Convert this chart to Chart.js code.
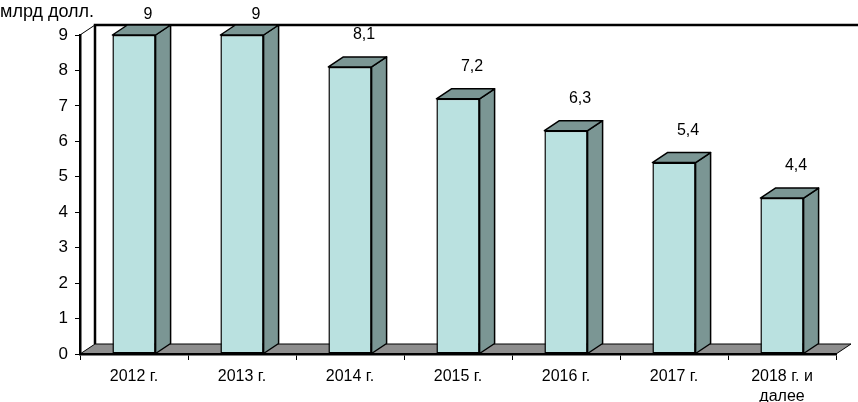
<!DOCTYPE html>
<html lang="ru">
<head>
<meta charset="utf-8">
<title>млрд долл.</title>
<script src="https://cdn.jsdelivr.net/npm/chart.js@4/dist/chart.umd.min.js"></script>
<style>
    html, body { margin: 0; padding: 0; background: #ffffff; }
    #wrap { width: 858px; height: 402px; position: relative; }
</style>
</head>
<body>
<div id="wrap"><canvas id="barChart" width="858" height="402"></canvas></div>
<script>
// --- DATA ---
const categories = ['2012 г.', '2013 г.', '2014 г.', '2015 г.', '2016 г.', '2017 г.', ['2018 г. и', 'далее']];
const values = [9, 9, 8.1, 7.2, 6.3, 5.4, 4.4];
const valueLabels = ['9', '9', '8,1', '7,2', '6,3', '5,4', '4,4'];
const yTitle = 'млрд долл.';

const FONT = '"Liberation Sans", Arial, sans-serif';
const DX = 15, DY = 10;   // fake 3D depth
const FRONT = '#bae1e0';
const SIDE = '#7b9694';
const FLOOR = '#8e8e8e';

// Walls and floor go under everything else
const backdropPlugin = {
    id: 'backdrop',
    beforeDraw(chart) {
        const { ctx, chartArea: a } = chart;
        ctx.save();
        ctx.fillStyle = '#ffffff';
        ctx.fillRect(0, 0, chart.width, chart.height);

        // floor
        ctx.beginPath();
        ctx.moveTo(a.left, a.bottom);
        ctx.lineTo(a.left + DX, a.bottom - DY);
        ctx.lineTo(a.right + DX, a.bottom - DY);
        ctx.lineTo(a.right, a.bottom);
        ctx.closePath();
        ctx.fillStyle = FLOOR;
        ctx.fill();
        ctx.lineWidth = 1;
        ctx.strokeStyle = '#000';
        ctx.stroke();

        // left wall top edge
        ctx.beginPath();
        ctx.moveTo(a.left, a.top);
        ctx.lineTo(a.left + DX, a.top - DY);
        ctx.stroke();

        // back wall: thick left edge and top edge
        ctx.lineWidth = 2.5;
        ctx.beginPath();
        ctx.moveTo(a.left + DX, a.bottom - DY);
        ctx.lineTo(a.left + DX, a.top - DY);
        ctx.lineTo(chart.width, a.top - DY);
        ctx.stroke();

        // axis title
        ctx.fillStyle = '#000';
        ctx.font = '18px ' + FONT;
        ctx.textBaseline = 'alphabetic';
        ctx.textAlign = 'left';
        ctx.fillText(yTitle, 0, 17);
        ctx.restore();
    },
    afterDatasetsDraw(chart) {
        const { ctx } = chart;
        const meta = chart.getDatasetMeta(0);
        ctx.save();
        ctx.lineWidth = 1.5;
        ctx.strokeStyle = '#000';
        ctx.lineJoin = 'round';
        meta.data.forEach((bar, i) => {
            const { x, y, base, width } = bar.getProps(['x', 'y', 'base', 'width'], true);
            const l = x - width / 2, r = x + width / 2;

            // right side
            ctx.beginPath();
            ctx.moveTo(r, y);
            ctx.lineTo(r + DX, y - DY);
            ctx.lineTo(r + DX, base - DY);
            ctx.lineTo(r, base);
            ctx.closePath();
            ctx.fillStyle = SIDE;
            ctx.fill();
            ctx.stroke();

            // top
            ctx.beginPath();
            ctx.moveTo(l, y);
            ctx.lineTo(l + DX, y - DY);
            ctx.lineTo(r + DX, y - DY);
            ctx.lineTo(r, y);
            ctx.closePath();
            ctx.fill();
            ctx.stroke();

            // value label
            ctx.fillStyle = '#000';
            ctx.font = '16px ' + FONT;
            ctx.textAlign = 'center';
            ctx.textBaseline = 'middle';
            const ly = Math.max(15, y - DY - 22);
            ctx.fillText(valueLabels[i], x + 14, ly);
        });
        ctx.restore();
    }
};

new Chart(document.getElementById('barChart'), {
    type: 'bar',
    data: {
        labels: categories,
        datasets: [{
            data: values,
            backgroundColor: FRONT,
            borderColor: '#000',
            borderWidth: 1.5,
            borderSkipped: false,
            categoryPercentage: 1,
            barPercentage: 0.4
        }]
    },
    options: {
        responsive: false,
        animation: false,
        layout: { padding: { top: 35, right: 22, left: 0, bottom: 0 } },
        plugins: {
            legend: { display: false },
            tooltip: { enabled: false }
        },
        scales: {
            x: {
                afterFit(scale) { scale.height = 48; },
                grid: { drawOnChartArea: false, tickLength: 6, color: '#000', lineWidth: 1 },
                border: { color: '#000', width: 2.5 },
                ticks: {
                    color: '#000',
                    font: { family: FONT, size: 16, lineHeight: 1.25 },
                    padding: 7,
                    maxRotation: 0
                }
            },
            y: {
                min: 0,
                max: 9,
                afterFit(scale) { scale.width = 80; },
                grid: { drawOnChartArea: false, tickLength: 5, color: '#000', lineWidth: 1 },
                border: { color: '#000', width: 2.5 },
                ticks: {
                    stepSize: 1,
                    color: '#000',
                    font: { family: FONT, size: 17 },
                    padding: 7
                }
            }
        }
    },
    plugins: [backdropPlugin]
});
</script>
</body>
</html>
